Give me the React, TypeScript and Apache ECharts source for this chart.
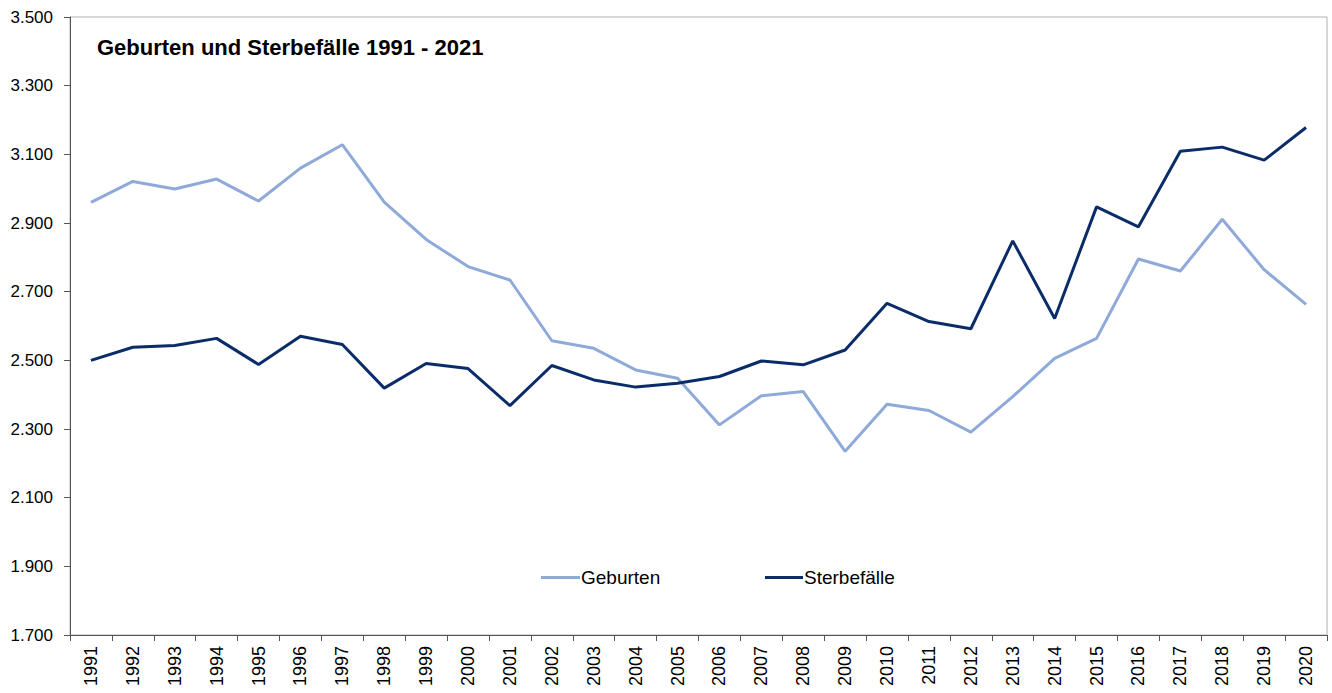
import React, { useEffect, useRef } from "react";
import * as echarts from "echarts";

const years = [
  "1991","1992","1993","1994","1995","1996","1997","1998","1999","2000",
  "2001","2002","2003","2004","2005","2006","2007","2008","2009","2010",
  "2011","2012","2013","2014","2015","2016","2017","2018","2019","2020",
];

const geburten = [
  2960, 3021, 2999, 3028, 2964, 3060, 3128, 2961, 2852, 2773,
  2734, 2557, 2535, 2472, 2448, 2312, 2397, 2409, 2235, 2372,
  2354, 2291, 2394, 2506, 2564, 2795, 2760, 2911, 2764, 2663,
];

const sterbefaelle = [
  2500, 2538, 2543, 2564, 2488, 2570, 2546, 2419, 2491, 2476,
  2368, 2485, 2443, 2422, 2433, 2453, 2498, 2487, 2530, 2666,
  2613, 2592, 2848, 2622, 2947, 2889, 3109, 3121, 3083, 3178,
];

const titleText = "Geburten und Sterbefälle 1991 - 2021";
const FONT = "'Liberation Sans', Arial, sans-serif";
const LIGHT = "#8FA9D9";
const DARK = "#0A2D69";

export default function App() {
  const ref = useRef<HTMLDivElement>(null);
  useEffect(() => {
    if (!ref.current) return;
    const chart = echarts.init(ref.current, null, { renderer: "svg" });
    chart.setOption({
      animation: false,
      backgroundColor: "#ffffff",
      textStyle: { fontFamily: FONT },
      title: {
        text: titleText,
        left: 92,
        top: 31,
        textStyle: { fontFamily: FONT, fontWeight: "bold", fontSize: 22, color: "#000" },
      },
      legend: [
        {
          data: ["Geburten"],
          left: 536,
          top: 563,
          icon: "rect",
          itemWidth: 39,
          itemHeight: 3,
          itemGap: 0,
          textStyle: { fontFamily: FONT, fontSize: 19, color: "#000", padding: [0, 0, 0, -4] },
        },
        {
          data: ["Sterbefälle"],
          left: 760,
          top: 563,
          icon: "rect",
          itemWidth: 38,
          itemHeight: 3,
          itemGap: 0,
          textStyle: { fontFamily: FONT, fontSize: 19, color: "#000", padding: [0, 0, 0, -4] },
        },
      ],
      grid: {
        left: 70,
        right: 5,
        top: 17,
        bottom: 58,
        show: true,
        borderColor: "#b0b0b0",
        borderWidth: 1,
        backgroundColor: "transparent",
      },
      xAxis: {
        type: "category",
        data: years,
        boundaryGap: true,
        axisLine: { lineStyle: { color: "#555", width: 1 } },
        axisTick: { show: true, length: 6, lineStyle: { color: "#555" } },
        axisLabel: {
          rotate: 90,
          margin: 11,
          fontSize: 18,
          color: "#000",
          fontFamily: FONT,
          interval: 0,
        },
        splitLine: { show: false },
      },
      yAxis: {
        type: "value",
        min: 1700,
        max: 3500,
        interval: 200,
        axisLine: { show: true, lineStyle: { color: "#555", width: 1 } },
        axisTick: { show: true, length: 6, lineStyle: { color: "#555" } },
        axisLabel: {
          margin: 17,
          fontSize: 17,
          color: "#000",
          fontFamily: FONT,
          formatter: (v: number) => String(v).replace(/\B(?=(\d{3})+(?!\d))/g, "."),
        },
        splitLine: { show: false },
      },
      series: [
        {
          name: "Geburten",
          type: "line",
          data: geburten,
          symbol: "none",
          lineStyle: { color: LIGHT, width: 3 },
          itemStyle: { color: LIGHT },
        },
        {
          name: "Sterbefälle",
          type: "line",
          data: sterbefaelle,
          symbol: "none",
          lineStyle: { color: DARK, width: 3 },
          itemStyle: { color: DARK },
        },
      ],
    });
    return () => chart.dispose();
  }, []);
  return (
    <div
      ref={ref}
      style={{ position: "fixed", left: 0, top: 0, width: 1332, height: 693, background: "#fff" }}
    />
  );
}
